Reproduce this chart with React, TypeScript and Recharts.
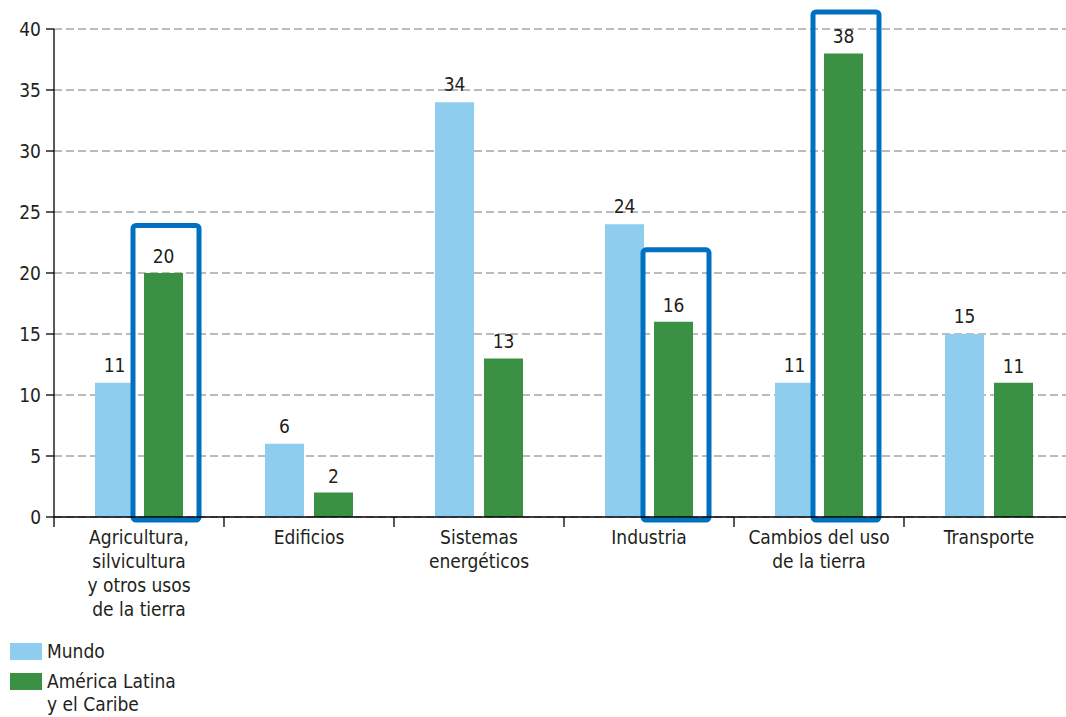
import React from "react";
import {
  BarChart,
  Bar,
  XAxis,
  YAxis,
  CartesianGrid,
  LabelList,
  Legend,
  Rectangle,
} from "recharts";

// categories, one entry per line of the axis label
const categoryLines: string[][] = [
  ["Agricultura,", "silvicultura", "y otros usos", "de la tierra"],
  ["Edificios"],
  ["Sistemas", "energéticos"],
  ["Industria"],
  ["Cambios del uso", "de la tierra"],
  ["Transporte"],
];
const mundo = [11, 6, 34, 24, 11, 15];
const latam = [20, 2, 13, 16, 38, 11];
// top of the highlight box around the regional bar, in axis units (null = none)
const highlightTop: (number | null)[] = [23.9, null, null, 21.9, 41.4, null];
const yTicks = [0, 5, 10, 15, 20, 25, 30, 35, 40];

const seriesNames = ["Mundo", "América Latina\ny el Caribe"];

const LIGHT_BLUE = "#8FCDEE";
const GREEN = "#3A9143";
const BOX_BLUE = "#0071C1";
const INK = "#231F20";
const FONT = "'Liberation Sans Narrow', 'DejaVu Sans Condensed', Roboto, sans-serif";

const data = categoryLines.map((lines, i) => ({
  name: lines.join(" "),
  lines,
  mundo: mundo[i],
  latam: latam[i],
  box: highlightTop[i],
}));

const CategoryTick = (props: any) => {
  const { x, y, payload, index } = props;
  const half = payload?.offset ?? 85;
  const lines = data[index]?.lines ?? [String(payload.value)];
  return (
    <g>
      <line x1={x - half} x2={x - half} y1={y} y2={y + 10} stroke="#000" strokeWidth={1.3} />
      <text x={x} y={y} textAnchor="middle" fill={INK} fontSize={19} fontFamily={FONT}>
        {lines.map((l: string, i: number) => (
          <tspan key={i} x={x} y={y + 27 + i * 24}>
            {l}
          </tspan>
        ))}
      </text>
    </g>
  );
};

const HighlightBar = (props: any) => {
  const { x, y, width, height, payload, value } = props;
  const top = payload?.box;
  let box = null;
  if (top != null && value) {
    const base = y + height;
    const pxPerUnit = height / value;
    const boxTop = base - top * pxPerUnit;
    box = (
      <rect
        x={x - 11}
        y={boxTop}
        width={width + 27}
        height={base + 3 - boxTop}
        rx={3}
        fill="none"
        stroke={BOX_BLUE}
        strokeWidth={5}
      />
    );
  }
  return (
    <g>
      <Rectangle x={x} y={y} width={width} height={height} fill={GREEN} />
      {box}
    </g>
  );
};

const LegendBox = () => {
  const colors = [LIGHT_BLUE, GREEN];
  return (
    <div
      style={{
        height: 80,
        boxSizing: "border-box",
        overflow: "hidden",
        paddingTop: 6,
        fontFamily: FONT,
        fontSize: 19,
        color: INK,
        paddingLeft: 10,
      }}
    >
      {seriesNames.map((n, i) => (
        <div key={i} style={{ display: "flex", alignItems: "flex-start", marginTop: i === 0 ? 0 : 10 }}>
          <div style={{ width: 32, height: 17, background: colors[i], marginRight: 5, flexShrink: 0 }} />
          <div style={{ lineHeight: "23px", marginTop: -3, whiteSpace: "pre" }}>{n}</div>
        </div>
      ))}
    </div>
  );
};

export default function App() {
  return (
    <div style={{ position: "fixed", left: 0, top: 0, width: 1066, height: 717, overflow: "hidden", background: "#fff" }}>
      <BarChart
        width={1080}
        height={717}
        data={data}
        margin={{ top: 29, right: 6, left: 0, bottom: 0 }}
        barSize={39}
        barGap={10}
      >
        <CartesianGrid vertical={false} stroke="#777" strokeDasharray="8 4" />
        <YAxis
          domain={[0, 40]}
          ticks={yTicks}
          width={54}
          interval={0}
          tickSize={8}
          tickMargin={5}
          axisLine={{ stroke: "#000", strokeWidth: 1.3 }}
          tickLine={{ stroke: "#000", strokeWidth: 1.3 }}
          tick={{ fill: INK, fontSize: 19, fontFamily: FONT }}
        />
        <XAxis
          dataKey="name"
          height={120}
          interval={0}
          tickSize={0}
          tickMargin={0}
          tickLine={false}
          axisLine={{ stroke: "#000", strokeWidth: 1.3 }}
          tick={<CategoryTick />}
        />
        <Legend verticalAlign="bottom" align="left" layout="horizontal" content={<LegendBox />} />
        <Bar dataKey="mundo" name="Mundo" fill={LIGHT_BLUE} isAnimationActive={false}>
          <LabelList dataKey="mundo" position="top" offset={11} fill={INK} fontSize={19} fontFamily={FONT} />
        </Bar>
        <Bar dataKey="latam" name="América Latina y el Caribe" fill={GREEN} shape={<HighlightBar />} isAnimationActive={false}>
          <LabelList dataKey="latam" position="top" offset={10} fill={INK} fontSize={19} fontFamily={FONT} />
        </Bar>
      </BarChart>
    </div>
  );
}
